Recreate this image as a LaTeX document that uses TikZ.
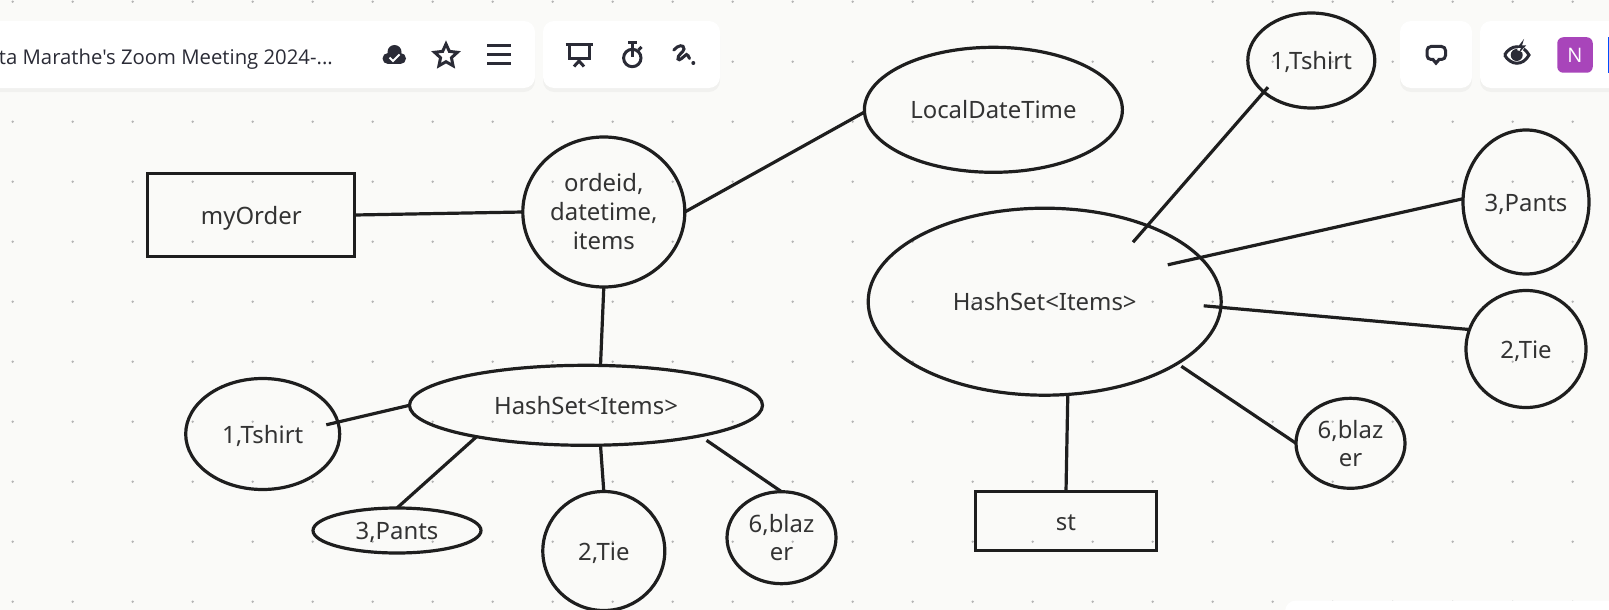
\documentclass[tikz,border=0pt]{standalone}
\usepackage{fontspec}
\setmainfont{Noto Sans}
\newfontfamily\uifont{Open Sans}
\usetikzlibrary{%
	calc,%
	shadows,%
	shapes.geometric%
}
\definecolor{boardbg}{HTML}{FAFAF8}
\definecolor{griddot}{HTML}{B4B4B4}
\definecolor{ink}{HTML}{1E1E1E}
\definecolor{labelink}{HTML}{333333}
\definecolor{iconink}{HTML}{2A2B36}
\definecolor{avatar}{HTML}{A845BA}
\tikzset{
	blob/.style={draw=ink,line width=3.2pt,ellipse,inner sep=0pt,outer sep=0pt,text=labelink,align=center,font=\fontsize{23.9}{29}\selectfont},
	boxnode/.style={draw=ink,line width=3.2pt,rectangle,inner sep=0pt,outer sep=0pt,text=labelink,font=\fontsize{23.9}{29}\selectfont},
	oneline/.style={text height=18pt,text depth=0pt},
	link/.style={draw=ink,line width=3.2pt},
	toolbar/.style={fill=white,draw=none,rounded corners=11pt,drop shadow={shadow xshift=0pt,shadow yshift=-4pt,opacity=0.07}},
	icon/.style={draw=iconink,line width=3pt}
}

\begin{document}
\begin{tikzpicture}[x=1pt,y=-1pt]
		\useasboundingbox[fill=boardbg] (0,0) rectangle (1609,610);

		% Board dots
		\foreach \col in {0,...,26}
		\foreach \row in {0,...,10}
		\fill[griddot] (12.7+60*\col,1.7+60*\row) circle (1.3pt);

		% Left group
		\node[boxnode,oneline,minimum width=207pt,minimum height=83pt] (myorder) at (251.3,215) {myOrder};
		\node[blob,minimum width=162pt,minimum height=150pt] (ordeid) at (603.8,212) {ordeid,\\datetime,\\items};
		\node[blob,oneline,minimum width=258pt,minimum height=125pt] (localdate) at (993.4,109.8) {LocalDateTime};
		\node[blob,oneline,minimum width=353pt,minimum height=80pt] (hashsmall) at (586,405.3) {HashSet<Items>};
		\node[blob,oneline,minimum width=154pt,minimum height=111pt] (lefttshirt) at (262.7,434) {1,Tshirt};
		\node[blob,oneline,minimum width=168pt,minimum height=45pt] (leftpants) at (397,530.5) {3,Pants};
		\node[blob,oneline,minimum width=122pt,minimum height=119pt] (lefttie) at (603.8,551) {2,Tie};
		\node[blob,minimum width=109pt,minimum height=92pt] (leftblazer) at (781.5,537.7) {6,blaz\\[-1.5pt]er};

		% Right group
		\node[blob,oneline,minimum width=353pt,minimum height=187pt] (hashbig) at (1044.7,301.7) {HashSet<Items>};
		\node[blob,oneline,minimum width=127pt,minimum height=95pt] (righttshirt) at (1311.3,60.5) {1,Tshirt};
		\node[blob,oneline,minimum width=126pt,minimum height=144pt] (rightpants) at (1526,202) {3,Pants};
		\node[blob,oneline,minimum width=120pt,minimum height=117pt] (righttie) at (1526,349) {2,Tie};
		\node[blob,minimum width=109pt,minimum height=90pt] (rightblazer) at (1350.5,443.3) {6,blaz\\[-1.5pt]er};
		\node[boxnode,oneline,minimum width=181pt,minimum height=59pt] (st) at (1066,521.2) {st};

		% Line ends inside the shapes
		\coordinate (tshirtin) at (326.3,424.8);
		\coordinate (bigtshirtin) at (1133,242.2);
		\coordinate (tshirttip) at (1268,87.2);
		\coordinate (bigpantsin) at (1167.8,264.8);
		\coordinate (bigtiein) at (1203.7,305.8);

		% Edges
		\draw[link] (myorder.east) -- (ordeid.west);
		\draw[link] (ordeid.east) -- (localdate.181);
		\draw[link] (ordeid.south) -- (hashsmall.70);
		\draw[link] (hashsmall.west) -- (tshirtin);
		\draw[link] (hashsmall.196) -- (leftpants.north);
		\draw[link] (hashsmall.-70) -- (lefttie.north);
		\draw[link,shorten <=8pt] (hashsmall.-15.4) -- (leftblazer.north);
		\draw[link] (bigtshirtin) -- (tshirttip);
		\draw[link] (bigpantsin) -- (rightpants.177);
		\draw[link] (bigtiein) -- (righttie.161);
		\draw[link,shorten <=5pt] (hashbig.-25) -- (rightblazer.west);
		\draw[link] (hashbig.-76) -- (st.north);

		% Toolbars
		\fill[toolbar] (-20,21) rectangle (535,88);
		\fill[toolbar] (543,21) rectangle (720,88);
		\fill[toolbar] (1400,21) rectangle (1472,88);
		\fill[toolbar] (1480,21) rectangle (1640,88);
		\fill[toolbar] (1285,600.5) rectangle (1640,660);
		\node[anchor=base east,inner sep=0pt,text=iconink,font=\uifont\fontsize{20.3}{24}\selectfont] (title) at (333,64) {ta Marathe's Zoom Meeting 2024-...};

		% Cloud
		\fill[iconink] (394.5,52) circle (7pt);
		\fill[iconink] (388,58.5) circle (5.5pt);
		\fill[iconink] (400.5,58.5) circle (5.5pt);
		\fill[iconink] (388,55) rectangle (400.5,64);
		\draw[white,line width=1.9pt] (389.5,57.5) -- (393,61) -- (399.5,54.5);

		% Star
		\node[star,star points=5,star point ratio=2.1,draw=iconink,line width=3pt,minimum size=24pt,inner sep=0pt] (favstar) at (446,56) {};

		% Menu
		\foreach \ypos in {45.7,54.5,63.3}
		\draw[icon] (487,\ypos) -- (511,\ypos);

		% Screen
		\draw[icon] (565.7,44.5) -- (592.7,44.5);
		\draw[icon] (569.5,44.5) -- (569.5,58.5) -- (589,58.5) -- (589,44.5);
		\draw[icon] (574,66.5) -- (579,61) -- (584,66.5);

		% Timer
		\draw[icon] (632.3,58) circle (8.7pt);
		\draw[icon] (628,43) -- (637,43);
		\draw[icon] (632.3,43) -- (632.3,48);
		\draw[icon] (632.3,51.5) -- (632.3,57);
		\draw[icon] (638.5,50) -- (641.5,47);

		% Squiggle
		\draw[icon,line cap=round] (673.8,50) .. controls (678,45) and (684,44) .. (684,49) .. controls (684,52) and (677,55) .. (678,59) .. controls (679,62) and (684,56) .. (686.5,54.5) .. controls (688,54) and (688.5,57) .. (689.5,58.5);
		\fill[iconink] (693.3,63) circle (2pt);

		% Comment
		\draw[icon,rounded corners=4pt] (1427,46.5) rectangle (1445.5,59.5);
		\fill[iconink] (1430.5,59) -- (1441.5,59) -- (1436,65.5) -- cycle;
		\fill[white] (1433.5,57.5) -- (1438.5,57.5) -- (1436,60.5) -- cycle;

		% Eye
		\draw[icon] (1504.5,55) .. controls (1511,44) and (1523,44) .. (1529,55) .. controls (1523,66) and (1511,66) .. (1504.5,55);
		\fill[iconink] (1516.7,55) circle (6pt);
		\fill[white] (1521,44) -- (1526,44) -- (1522,52) -- (1517,50) -- cycle;
		\fill[iconink] (1524,39) -- (1517,48) -- (1521,48) -- (1518,54) -- (1526,45.5) -- (1522,45.5) -- cycle;

		% Avatar
		\node[fill=avatar,rounded corners=6pt,minimum size=35.5pt,inner sep=0pt,text=white,font=\uifont\fontsize{20}{24}\selectfont] (avatarn) at (1575,55) {N};
		\fill[blue!70!cyan] (1607.8,37) rectangle (1609,73);
	\end{tikzpicture}
\end{document}
